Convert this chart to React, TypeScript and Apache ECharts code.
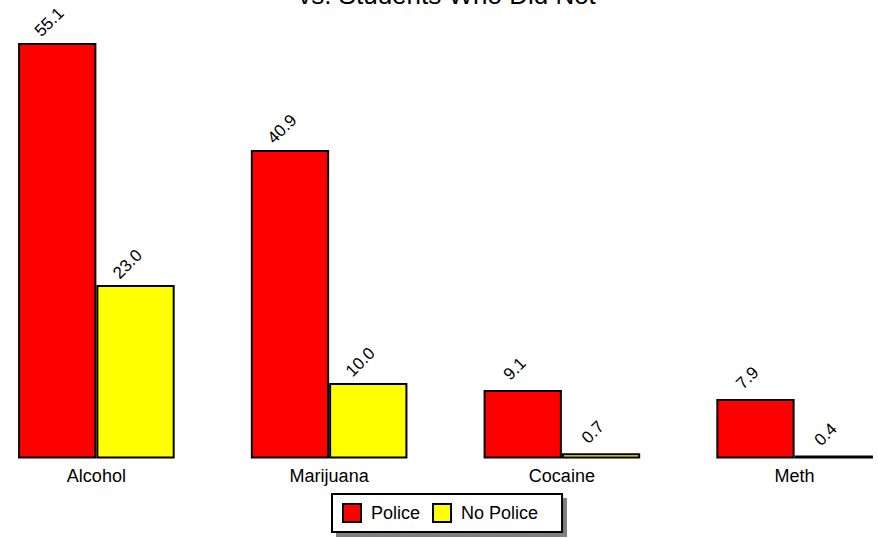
import React, { useEffect, useRef } from "react";
import * as echarts from "echarts";

const categories = ["Alcohol", "Marijuana", "Cocaine", "Meth"];
const policeValues = [55.1, 40.9, 9.1, 7.9];
const noPoliceValues = [23.0, 10.0, 0.7, 0.4];
const seriesNames = ["Police", "No Police"];
const titleLine = "vs. Students Who Did Not";

const FONT = "'Liberation Sans', Arial, Helvetica, sans-serif";
const SHIFT = 20; // inner chart canvas starts 20px left of the page

export default function App() {
  const ref = useRef<HTMLDivElement>(null);
  useEffect(() => {
    if (!ref.current) return;
    const chart = echarts.init(ref.current, undefined, { renderer: "svg" });
    const label = {
      show: true,
      position: "top",
      distance: 0,
      rotate: 45,
      align: "center",
      verticalAlign: "middle",
      offset: [9.2, -20.5],
      fontSize: 17,
      fontFamily: FONT,
      color: "#000",
      formatter: (p: any) => Number(p.value).toFixed(1),
    };
    chart.setOption({
      animation: false,
      backgroundColor: "#fff",
      textStyle: { fontFamily: FONT },
      grid: { left: 0, right: 0, top: 43, bottom: 79.5, containLabel: false },
      xAxis: {
        type: "category",
        data: categories,
        axisLine: { show: false },
        axisTick: { show: false },
        axisLabel: { fontSize: 18, color: "#000", fontFamily: FONT, margin: 8 },
      },
      yAxis: {
        type: "value",
        min: 0,
        max: 55.1,
        show: false,
        splitLine: { show: false },
      },
      legend: {
        data: seriesNames,
        left: 332 + SHIFT,
        top: 494,
        orient: "horizontal",
        icon: "rect",
        itemWidth: 18,
        itemHeight: 18,
        itemGap: 12,
        padding: [9, 24, 9, 10],
        backgroundColor: "#fff",
        borderColor: "#000",
        borderWidth: 2,
        borderRadius: 0,
        textStyle: { fontSize: 18, color: "#000", fontFamily: FONT, padding: [0, 0, 0, 5] },
      },
      graphic: [
        {
          type: "rect",
          z: 0,
          shape: { x: 336 + SHIFT, y: 498, width: 231, height: 39 },
          style: { fill: "#808080" },
        },
        {
          type: "text",
          x: 447 + SHIFT,
          y: -5,
          style: {
            text: titleLine,
            fontSize: 26,
            fontFamily: FONT,
            fill: "#000",
            align: "center",
            verticalAlign: "middle",
          },
        },
      ],
      series: [
        {
          name: seriesNames[0],
          type: "bar",
          data: policeValues,
          barWidth: 78.3,
          barGap: "0%",
          itemStyle: { color: "#ff0000", borderColor: "#000", borderWidth: 2 },
          label,
        },
        {
          name: seriesNames[1],
          type: "bar",
          data: noPoliceValues,
          barWidth: 78.3,
          barGap: "0%",
          itemStyle: { color: "#ffff00", borderColor: "#000", borderWidth: 2 },
          label,
        },
      ],
    });
    return () => chart.dispose();
  }, []);
  return (
    <div
      style={{
        position: "absolute",
        left: 0,
        top: 0,
        width: 878,
        height: 538,
        overflow: "hidden",
        background: "#fff",
      }}
    >
      <div
        ref={ref}
        style={{ position: "absolute", left: -SHIFT, top: 0, width: 931, height: 538 }}
      />
    </div>
  );
}
